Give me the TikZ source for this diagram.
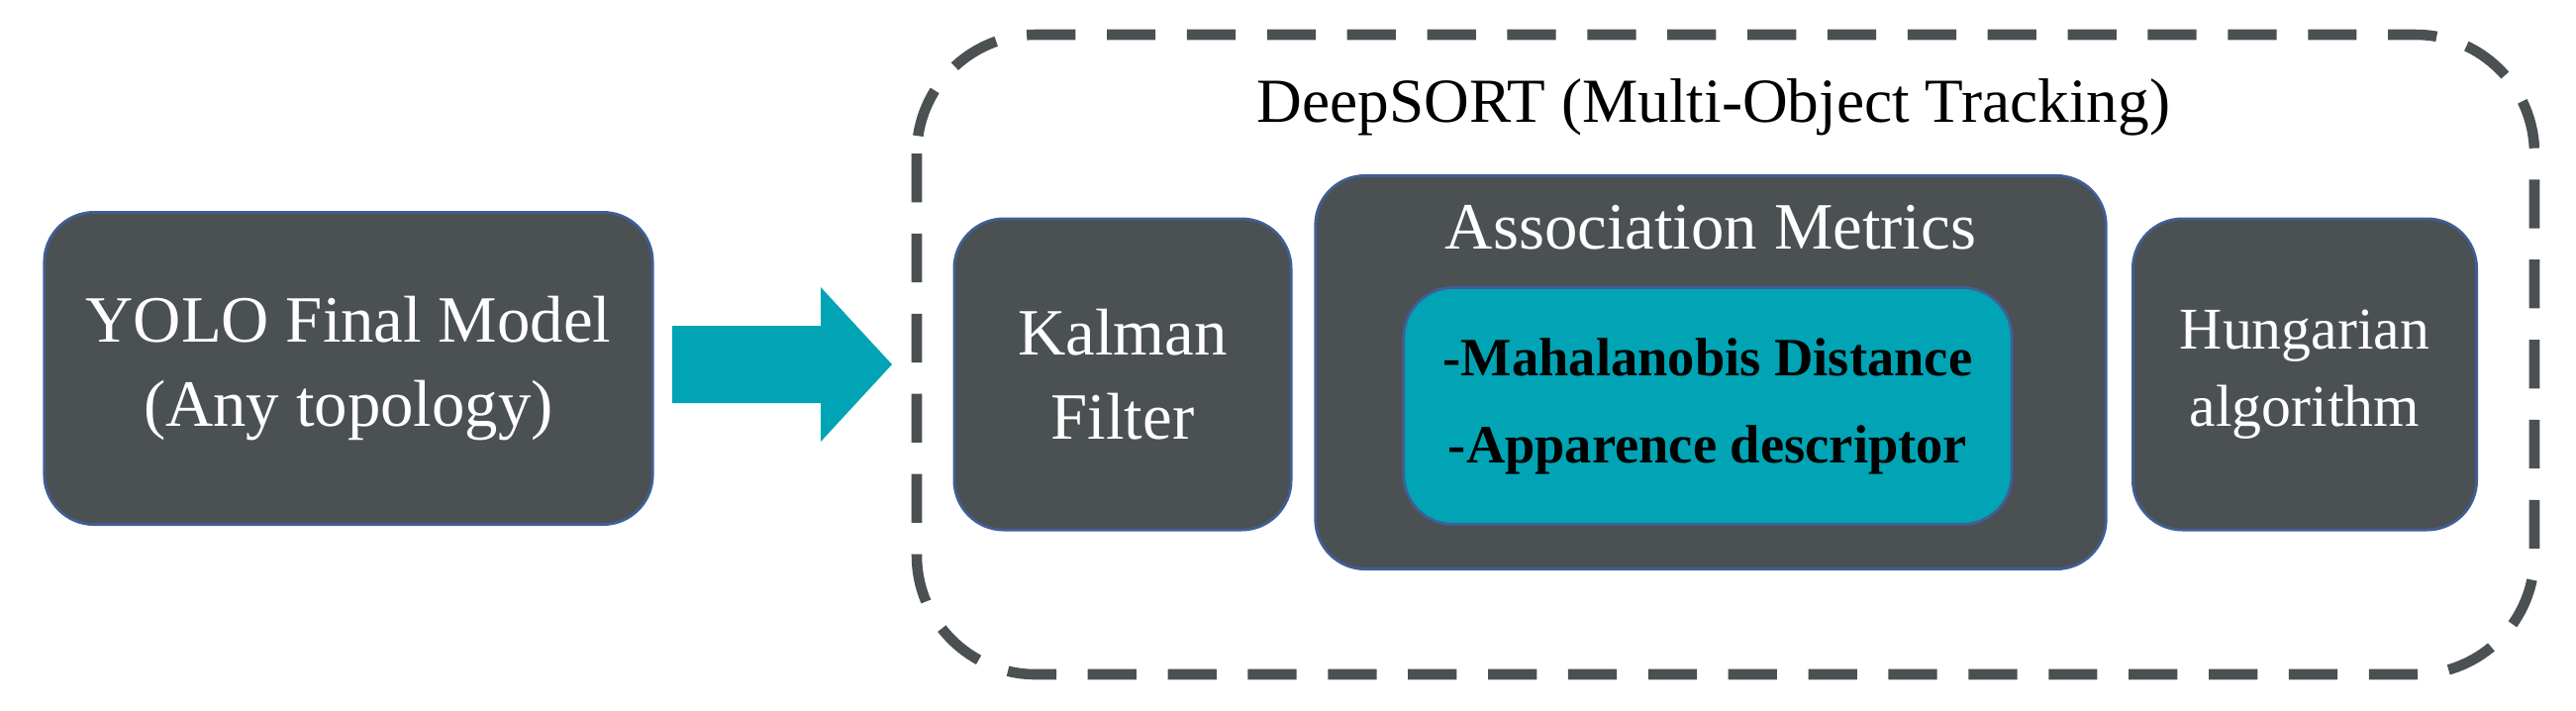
\documentclass[tikz,border=0pt]{standalone}
\usepackage{fontspec}
\setmainfont{Liberation Serif}
\begin{document}
\begin{tikzpicture}[x=0.01cm,y=-0.01cm,
  box/.style={draw=cyan!40!blue!70!black, line width=0.8pt, fill=dgray, rounded corners=0.5cm, text=white, align=center, font=\fontsize{19}{24}\selectfont, inner sep=0pt},
  ]
\definecolor{dgray}{HTML}{4B5052}
\definecolor{teal1}{HTML}{00A4B4}
\useasboundingbox (0,0) rectangle (2602,717);
\draw[dgray, line width=3pt, dash pattern=on 14pt off 9pt, rounded corners=1.2cm] (926,35) rectangle (2560,681);
\node[font=\fontsize{18}{22}\selectfont] (title) at (1731,108) {DeepSORT (Multi-Object Tracking)};
\node[box, minimum width=6.14cm, minimum height=3.15cm] (yolo) at (352,372) {YOLO Final Model\\(Any topology)};
\node[box, minimum width=3.4cm, minimum height=3.14cm] (kal) at (1134,378) {Kalman\\Filter};
\node[box, minimum width=7.98cm, minimum height=3.97cm] (assoc) at (1728,376) {};
\node[text=white, font=\fontsize{19}{24}\selectfont] (at) at (1728,230) {Association Metrics};
\node[draw=cyan!40!blue!70!black, line width=0.8pt, fill=teal1, rounded corners=0.5cm, minimum width=6.14cm, minimum height=2.39cm, inner sep=0pt, align=center, font=\bfseries\fontsize{15.5}{25}\selectfont] (inner) at (1725,410) {-Mahalanobis Distance\\-Apparence descriptor};
\node[box, minimum width=3.47cm, minimum height=3.14cm, font=\fontsize{17}{22}\selectfont] (hun) at (2328,378) {Hungarian\\algorithm};
\fill[teal1] (679,329) -- (829,329) -- (829,290) -- (901,368) -- (829,446) -- (829,407) -- (679,407) -- cycle;
\end{tikzpicture}
\end{document}
